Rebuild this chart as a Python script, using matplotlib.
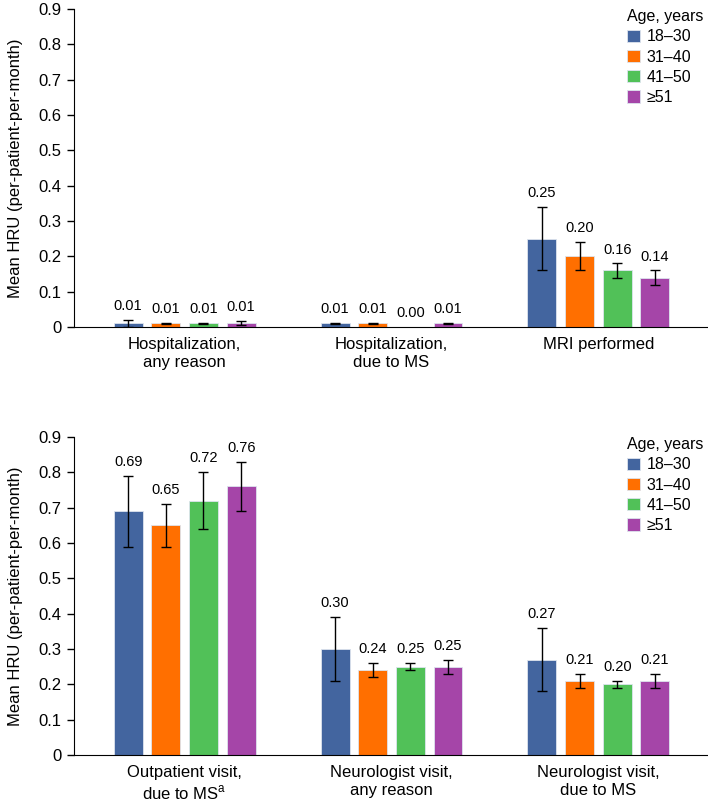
import numpy as np
import matplotlib.pyplot as plt

plt.rcParams['font.family'] = ['Liberation Sans', 'DejaVu Sans']
plt.rcParams['mathtext.fontset'] = 'custom'
plt.rcParams['mathtext.rm'] = 'Liberation Sans'

# data
age_groups = ["18\u201330", "31\u201340", "41\u201350", "\u226551"]
colors = ["#43659F", "#FF6F00", "#51C158", "#A545A8"]

top_cats = ["Hospitalization,\nany reason", "Hospitalization,\ndue to MS", "MRI performed"]
top_vals = [[0.01, 0.01, 0.25],
            [0.01, 0.01, 0.20],
            [0.01, 0.00, 0.16],
            [0.01, 0.01, 0.14]]
top_lo = [[0.00, 0.009, 0.16],
          [0.009, 0.009, 0.16],
          [0.009, 0.00, 0.14],
          [0.005, 0.009, 0.12]]
top_hi = [[0.021, 0.011, 0.34],
          [0.011, 0.011, 0.24],
          [0.011, 0.00, 0.18],
          [0.016, 0.011, 0.16]]

bot_cats = ["Outpatient visit,\ndue to MS$^\\mathregular{a}$", "Neurologist visit,\nany reason",
            "Neurologist visit,\ndue to MS"]
bot_vals = [[0.69, 0.30, 0.27],
            [0.65, 0.24, 0.21],
            [0.72, 0.25, 0.20],
            [0.76, 0.25, 0.21]]
bot_lo = [[0.59, 0.21, 0.18],
          [0.59, 0.22, 0.19],
          [0.64, 0.24, 0.19],
          [0.69, 0.23, 0.19]]
bot_hi = [[0.79, 0.39, 0.36],
          [0.71, 0.26, 0.23],
          [0.80, 0.26, 0.21],
          [0.83, 0.27, 0.23]]

fig = plt.figure(figsize=(7.08, 8.06), dpi=100)
ax1 = fig.add_axes([0.1045, 0.5943, 0.8955, 0.3945])
ax2 = fig.add_axes([0.1045, 0.0633, 0.8955, 0.3945])

width = 0.14
step = 0.182
offsets = (np.arange(4) - 1.5) * step


def draw(ax, cats, vals, lo, hi):
    x = np.arange(len(cats))
    for i in range(4):
        v = np.array(vals[i])
        l = np.array(lo[i])
        h = np.array(hi[i])
        xs = x + offsets[i]
        ax.bar(xs, v, width, color=colors[i], edgecolor='#dde4ee', linewidth=0.6,
               label=age_groups[i], zorder=2)
        show = h > l
        ax.errorbar(xs[show], v[show], yerr=[v[show] - l[show], h[show] - v[show]],
                    fmt='none', ecolor='black', elinewidth=1, capsize=3.5, capthick=1, zorder=3)
        for xx, vv, hh in zip(xs, v, h):
            ax.annotate(f"{vv:.2f}", (xx, max(hh, vv)), xytext=(0, 10),
                        textcoords='offset points', ha='center', va='center', fontsize=10.5)
    ax.set_xlim(-0.535, 2.53)
    ax.set_ylim(0, 0.9)
    ax.set_yticks(np.arange(0, 0.91, 0.1))
    ax.set_yticklabels(["0"] + [f"{t:.1f}" for t in np.arange(0.1, 0.91, 0.1)])
    ax.set_xticks(x)
    ax.set_xticklabels(cats, fontsize=12, linespacing=1.25)
    ax.tick_params(axis='x', length=0, pad=7)
    ax.tick_params(axis='y', labelsize=12, length=5, width=1, direction='out', pad=4)
    for s in ['top', 'right']:
        ax.spines[s].set_visible(False)
    ax.set_ylabel("Mean HRU (per-patient-per-month)", fontsize=12, labelpad=11)
    ax.legend(title="Age, years", loc='upper left', bbox_to_anchor=(0.873, 1.0),
              frameon=False, fontsize=11.5, title_fontsize=11.5, borderpad=0,
              borderaxespad=0, handlelength=0.8, handleheight=0.8, handletextpad=0.4,
              labelspacing=0.33, alignment='left')


draw(ax1, top_cats, top_vals, top_lo, top_hi)
draw(ax2, bot_cats, bot_vals, bot_lo, bot_hi)

plt.savefig("out.png", dpi=100)
